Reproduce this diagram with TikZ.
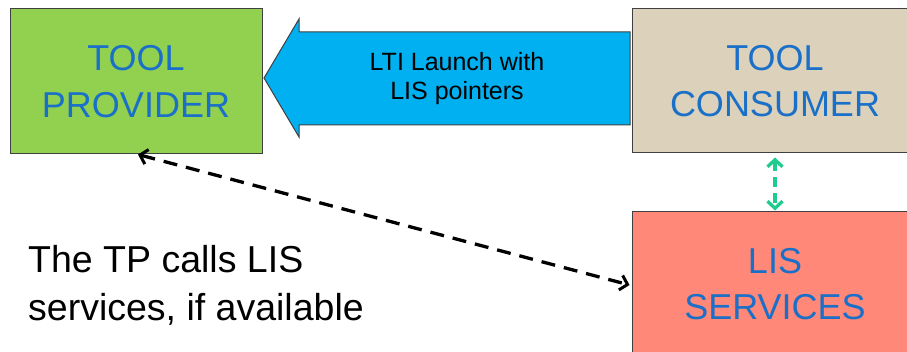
\documentclass[tikz,border=0pt]{standalone}
\usepackage{fontspec}
\setmainfont{Liberation Sans}
\usetikzlibrary{arrows.meta}
\definecolor{tpgreen}{HTML}{92D050}
\definecolor{tctan}{HTML}{DCD1BA}
\definecolor{lissalmon}{HTML}{FF8878}
\definecolor{ltiblue}{HTML}{00B0F0}
\definecolor{boxtext}{HTML}{1A70C8}
\definecolor{boxedge}{HTML}{404040}
\definecolor{linkgreen}{HTML}{1FCB8E}
\tikzset{
  box/.style={draw=boxedge, line width=1pt, align=center, text=boxtext,
    font=\fontsize{36}{46.5}\selectfont, inner sep=0pt},
  launchshape/.style={draw=boxedge, line width=1pt, fill=ltiblue, line join=miter},
  launchtext/.style={align=center, text=black, font=\fontsize{25}{29}\selectfont, inner sep=0pt},
  notetext/.style={align=left, text=black, font=\fontsize{37.5}{48}\selectfont, inner sep=0pt},
  callline/.style={draw=black, line width=3.3pt, dash pattern=on 14pt off 9pt,
    {Straight Barb[length=7pt,width=15pt,line width=3pt]}-{Straight Barb[length=7pt,width=15pt,line width=3pt]}},
  tclink/.style={draw=linkgreen, line width=3.5pt, dash pattern=on 10pt off 6pt,
    {Straight Barb[length=7pt,width=15pt,line width=3.3pt]}-{Straight Barb[length=7pt,width=15pt,line width=3.3pt]}}
}
\begin{document}
\begin{tikzpicture}[x=1pt,y=-1pt]
\useasboundingbox (0,0) rectangle (907,352);
\clip (0,0) rectangle (907,352);
\fill[white] (0,0) rectangle (907,352);
% launch arrow
\draw[launchshape] (630,32) -- (299,32) -- (299,19) -- (264,78) -- (299,137) -- (299,125) -- (630,125) -- cycle;
\node[launchtext] (launch) at (457,79) {LTI Launch with\\LIS pointers};
% boxes
\node[box, fill=tpgreen, minimum width=252pt, minimum height=145pt] (provider) at (136,81.5) {TOOL\\PROVIDER};
\node[box, fill=tctan, minimum width=286pt, minimum height=144pt] (consumer) at (775,81) {TOOL\\CONSUMER};
\node[box, fill=lissalmon, minimum width=286pt, minimum height=144pt] (services) at (775,284) {LIS\\SERVICES};
% note
\node[notetext, anchor=north west] (note) at (28,245) {The TP calls LIS\\services, if available};
% connectors
\draw[callline] ([xshift=2pt]provider.south) -- ([yshift=-1pt,xshift=-2pt]services.west);
\draw[tclink, shorten <=4pt, shorten >=1pt] (consumer.south) -- (services.north);
\end{tikzpicture}
\end{document}
